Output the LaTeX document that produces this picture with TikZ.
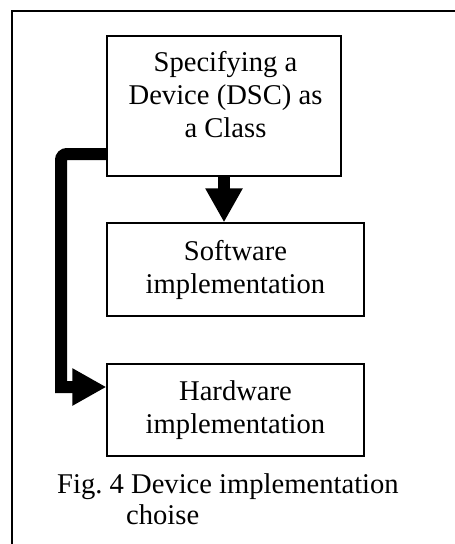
\documentclass[tikz,border=0pt]{standalone}
\usepackage{fontspec}
\setmainfont{Liberation Serif}
\usetikzlibrary{arrows.meta}
\begin{document}
\frenchspacing
\begin{tikzpicture}[x=1pt,y=-1pt,
  box/.style={draw=black,line width=1.3pt,inner sep=0pt},
  txt/.style={align=center,inner sep=0pt,font=\fontsize{28.6}{33}\selectfont},
  conn/.style={line width=12pt,line join=miter,-{Triangle[width=35pt,length=34pt]}}]
\useasboundingbox (0,0) rectangle (455,544);
\draw[line width=1.2pt] (455,11) -- (12,11) -- (12,544);
\node[box,minimum width=234pt,minimum height=140pt] (spec) at (224,106) {};
\node[txt,anchor=north] (spect) at (225.5,51.5) {Specifying a\\Device (DSC) as\\a Class};
\node[box,txt,minimum width=257pt,minimum height=93pt] (sw) at (235.5,269.5) {Software\\implementation};
\node[box,txt,minimum width=257pt,minimum height=92pt] (hw) at (235.5,410) {Hardware\\implementation};
\draw[conn] (spec.south -| 224,0) -- (sw.north -| 224,0);
\coordinate (c1) at (61,154);
\coordinate (c2) at (61,387);
\draw[conn] (spec.west |- c1) [rounded corners=6pt] -- (c1) [sharp corners] -- (c2) -- (hw.west |- c2);
\node[txt,anchor=base west] (cap1) at (57,493) {Fig. 4 Device implementation};
\node[txt,anchor=base west] (cap2) at (126,524) {choise};
\end{tikzpicture}
\end{document}
